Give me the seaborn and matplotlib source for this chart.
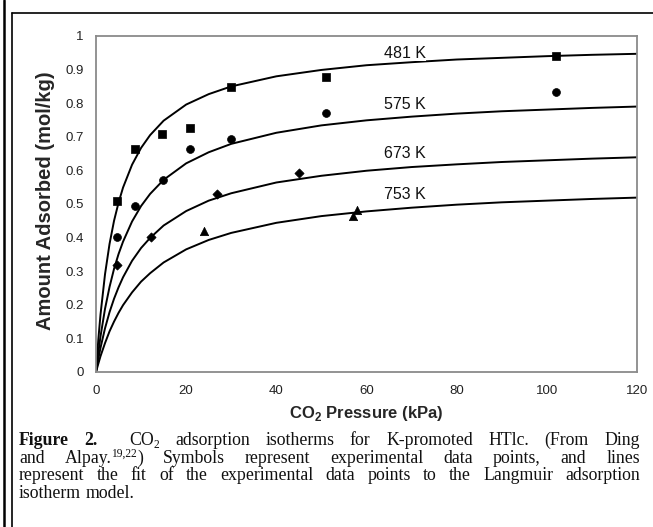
import numpy as np
import pandas as pd
import seaborn as sns
import matplotlib
matplotlib.use("Agg")
import matplotlib.pyplot as plt
from matplotlib.lines import Line2D
from matplotlib.transforms import IdentityTransform
from matplotlib.ticker import MultipleLocator, FuncFormatter

# ---------------- data ----------------
TEMPS = ["481 K", "575 K", "673 K", "753 K"]

# experimental points
P481 = [4.7, 8.7, 14.7, 20.8, 29.9, 51.0, 102.1]
Q481 = [0.508, 0.664, 0.709, 0.726, 0.848, 0.878, 0.940]
P575 = [4.7, 8.7, 14.8, 20.8, 29.9, 51.0, 102.1]
Q575 = [0.402, 0.495, 0.570, 0.664, 0.694, 0.771, 0.832]
P673 = [4.7, 12.1, 26.9, 45.0]
Q673 = [0.317, 0.402, 0.529, 0.593]
P753 = [23.9, 57.1, 58.0]
Q753 = [0.419, 0.465, 0.482]

# fitted (Langmuir) curves
P_FIT = [0, 0.5, 1, 2, 3, 4, 5, 6, 8, 10, 12, 15, 20, 25, 30, 40, 50, 60, 70, 80, 90, 100, 110, 120]
FIT481 = [0, 0.094, 0.171, 0.291, 0.381, 0.450, 0.504, 0.549, 0.617, 0.667, 0.705, 0.748, 0.796, 0.827,
          0.850, 0.880, 0.899, 0.913, 0.922, 0.930, 0.935, 0.940, 0.944, 0.947]
FIT575 = [0, 0.056, 0.106, 0.188, 0.253, 0.307, 0.351, 0.388, 0.448, 0.494, 0.530, 0.572, 0.621, 0.654,
          0.679, 0.712, 0.734, 0.749, 0.760, 0.769, 0.776, 0.781, 0.786, 0.790]
FIT673 = [0, 0.038, 0.072, 0.130, 0.178, 0.218, 0.252, 0.282, 0.331, 0.369, 0.399, 0.436, 0.479, 0.510,
          0.532, 0.564, 0.584, 0.599, 0.610, 0.618, 0.625, 0.630, 0.635, 0.639]
FIT753 = [0, 0.024, 0.047, 0.086, 0.121, 0.150, 0.176, 0.199, 0.237, 0.269, 0.294, 0.326, 0.365, 0.393,
          0.414, 0.444, 0.464, 0.478, 0.489, 0.498, 0.505, 0.510, 0.515, 0.519]

# curve labels
LABEL_X = [68.5, 68.5, 68.5, 68.5]
LABEL_Y = [0.949, 0.795, 0.651, 0.527]

X_TICKS = [0, 20, 40, 60, 80, 100, 120]
Y_TICKS = [0, 0.1, 0.2, 0.3, 0.4, 0.5, 0.6, 0.7, 0.8, 0.9, 1.0]

CAPTION = [
    ["b:Figure", "b:2.", "", "CO|_:2", "adsorption", "isotherms", "for", "K-promoted", "HTlc.", "(From", "Ding"],
    ["and", "Alpay.|^:19,22|)", "Symbols", "represent", "experimental", "data", "points,", "and", "lines"],
    ["represent", "the", "fit", "of", "the", "experimental", "data", "points", "to", "the", "Langmuir", "adsorption"],
    ["isotherm", "model."],
]

# ---------------- figure ----------------
W, H, DPI = 653, 527, 100
sns.set_theme(style="white")
plt.rcParams["font.family"] = ["Liberation Sans", "DejaVu Sans"]
plt.rcParams["mathtext.fontset"] = "custom"
plt.rcParams["mathtext.rm"] = "Liberation Sans"
plt.rcParams["mathtext.bf"] = "Liberation Sans:bold"

fig = plt.figure(figsize=(W / DPI, H / DPI), dpi=DPI)
fig.patch.set_facecolor("white")
AX_L, AX_R, AX_T, AX_B = 96, 637, 36, 372
ax = fig.add_axes([AX_L / W, 1 - AX_B / H, (AX_R - AX_L) / W, (AX_B - AX_T) / H])

fits = pd.DataFrame({
    "P": P_FIT * 4,
    "q": FIT481 + FIT575 + FIT673 + FIT753,
    "T": sum([[t] * len(P_FIT) for t in TEMPS], []),
})
sns.lineplot(data=fits, x="P", y="q", hue="T", palette=["black"] * 4, estimator=None,
             sort=False, legend=False, linewidth=1.4, ax=ax)

pts = [(P481, Q481, "s", 30), (P575, Q575, "o", 32), (P673, Q673, "D", 22), (P753, Q753, "^", 36)]
for px, qy, mk, s in pts:
    sns.scatterplot(x=px, y=qy, marker=mk, s=s, color="black", edgecolor="black", linewidth=0.5, ax=ax, zorder=3)

for lbl, lx, ly in zip(TEMPS, LABEL_X, LABEL_Y):
    ax.text(lx, ly, lbl, ha="center", va="center", fontsize=11.5, color="#111111",
            bbox=dict(facecolor="white", edgecolor="none", pad=0.5))

ax.set_xlim(0, 120)
ax.set_ylim(0, 1)
ax.set_xticks(X_TICKS)
ax.set_yticks(Y_TICKS)
ax.xaxis.set_minor_locator(MultipleLocator(10))
ax.yaxis.set_minor_locator(MultipleLocator(0.05))
ax.yaxis.set_major_formatter(FuncFormatter(lambda v, p: f"{v:g}"))
ax.tick_params(which="both", direction="in", length=4, width=1, color="#555555",
               labelsize=9.5, labelcolor="#222222", pad=9)
for sp in ax.spines.values():
    sp.set_color("#8a8a8a")
    sp.set_linewidth(1.3)
    sp.set_visible(True)

ax.set_xlabel(r"CO$_\mathbf{2}$ Pressure (kPa)", fontsize=12, fontweight="bold")
ax.set_ylabel("Amount Adsorbed (mol/kg)", fontsize=14.5, fontweight="bold")
ax.xaxis.set_label_coords(0.5, -(404 - AX_B) / (AX_B - AX_T))
ax.yaxis.set_label_coords(-(96 - 55) / (AX_R - AX_L), 0.51)

# frame lines of the page
fig.add_artist(Line2D([4 / W, 4 / W], [0, 1], transform=fig.transFigure, color="black", lw=1.8))
fig.add_artist(Line2D([11.8 / W, 11.8 / W], [0, 1 - 13.3 / H], transform=fig.transFigure, color="black", lw=1.2))
fig.add_artist(Line2D([11.8 / W, 1], [1 - 13.3 / H, 1 - 13.3 / H], transform=fig.transFigure, color="black", lw=1.2))

# caption, justified word by word
SERIF = ["Liberation Serif", "DejaVu Serif"]
CAP_SIZE = 12.8
X0, X1 = 19, 640
BASELINES = [445, 463, 480.5, 498]
renderer = fig.canvas.get_renderer()


def measure(txt, size, weight):
    t = fig.text(0, 0, txt, fontsize=size, fontweight=weight, family=SERIF,
                 transform=IdentityTransform(), va="baseline", ha="left", color="#111111")
    return t, t.get_window_extent(renderer).width


tmp1, w1 = measure("n n", CAP_SIZE, "normal")
tmp2, w2 = measure("nn", CAP_SIZE, "normal")
SPACE = w1 - w2
tmp1.remove()
tmp2.remove()


def draw_line(words, y_base, justify):
    placed = []
    for w in words:
        segs = []
        for seg in (w.split("|") if w else []):
            kind, txt = "n", seg
            if seg[:2] in ("b:", "_:", "^:"):
                kind, txt = seg[0], seg[2:]
            size = CAP_SIZE * 0.65 if kind in "_^" else CAP_SIZE
            weight = "bold" if kind == "b" else "normal"
            dy = {"_": -0.15, "^": 0.36}.get(kind, 0) * CAP_SIZE * DPI / 72
            t, wd = measure(txt, size, weight)
            segs.append((t, wd, dy))
        placed.append(segs)
    widths = [sum(s[1] for s in segs) for segs in placed]
    gap = (X1 - X0 - sum(widths)) / (len(words) - 1) if justify else SPACE
    x = X0
    for segs, wd in zip(placed, widths):
        xx = x
        for t, w, dy in segs:
            t.set_position((xx, H - y_base + dy))
            xx += w
        x += wd + gap


for i, (words, yb) in enumerate(zip(CAPTION, BASELINES)):
    draw_line(words, yb, justify=(i < len(CAPTION) - 1))

fig.savefig("out.png", dpi=DPI, facecolor="white")
